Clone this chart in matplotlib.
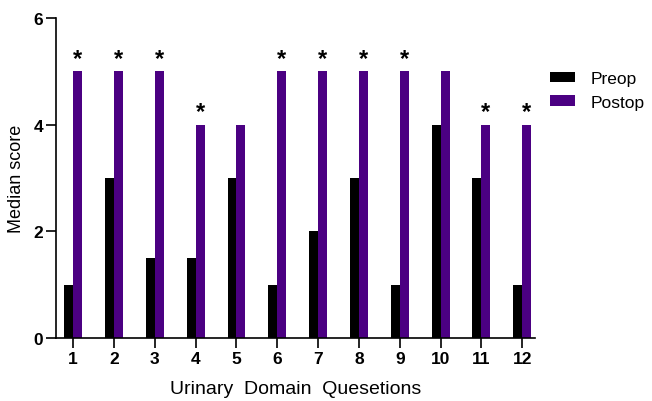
import matplotlib
matplotlib.use('Agg')
import matplotlib.pyplot as plt
import numpy as np

questions = [str(i) for i in range(1, 13)]
preop = [1, 3, 1.5, 1.5, 3, 1, 2, 3, 1, 4, 3, 1]
postop = [5, 5, 5, 4, 4, 5, 5, 5, 5, 5, 4, 4]
significant = [True, True, True, True, False, True, True, True, True, False, True, True]

PURPLE = '#4B0082'

plt.rcParams['font.family'] = ['Liberation Sans', 'DejaVu Sans']


def main():
    fig = plt.figure(figsize=(6.52, 4.02), dpi=100)
    ax = fig.add_axes([0.086, 0.157, 0.735, 0.796])

    x = np.arange(1, len(questions) + 1)
    w = 0.22
    ax.bar(x - w / 2, preop, width=w, color='black', label='Preop')
    ax.bar(x + w / 2, postop, width=w, color=PURPLE, label='Postop')

    # significance markers over postop bars
    for xi, v, sig in zip(x, postop, significant):
        if sig:
            ax.text(xi + w / 2, v + 0.02, '*', ha='center', va='bottom',
                    fontsize=17, fontweight='bold')

    ax.set_xlim(0.58, 12.32)
    ax.set_ylim(0, 6)
    ax.set_yticks([0, 2, 4, 6])
    ax.set_xticks(x)
    ax.set_xticklabels(questions)
    for lbl in ax.get_xticklabels() + ax.get_yticklabels():
        lbl.set_fontweight('bold')
        lbl.set_fontsize(12.5)

    ax.spines['top'].set_visible(False)
    ax.spines['right'].set_visible(False)
    for s in ('left', 'bottom'):
        ax.spines[s].set_linewidth(1.2)
    ax.tick_params(length=7.5, width=1.2, pad=2)

    ax.set_xlabel('Urinary  Domain  Quesetions', fontsize=14, labelpad=10)
    ax.set_ylabel('Median score', fontsize=13, labelpad=6)

    fig.legend(loc='upper left', bbox_to_anchor=(0.82, 0.86), frameon=False,
               fontsize=12.5, handlelength=1.45, handleheight=0.55,
               handletextpad=0.85, labelspacing=0.5)

    fig.savefig('out.png', dpi=100)


if __name__ == '__main__':
    main()
